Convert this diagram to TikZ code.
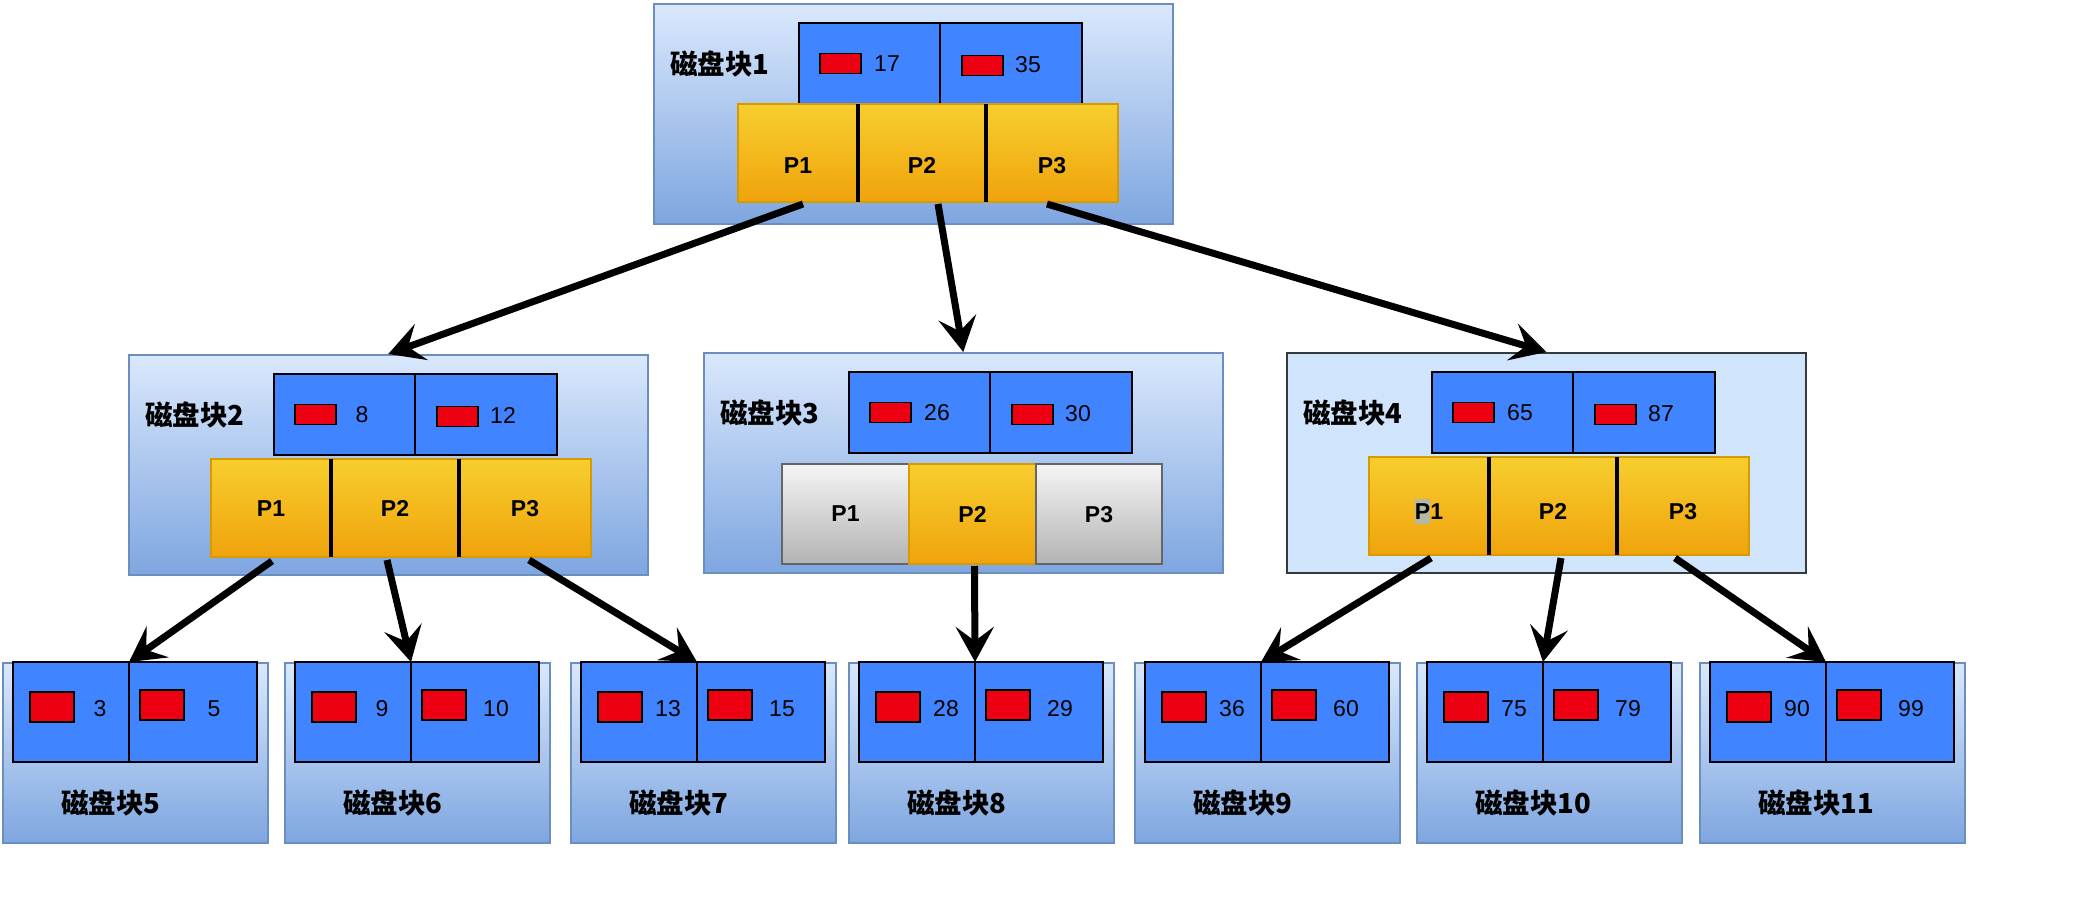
\documentclass[tikz,border=0pt]{standalone}
\usepackage{fontspec}
\setmainfont{Liberation Sans}
\newfontfamily\cjk{Noto Sans CJK SC}
\usepackage{xcolor}
\usetikzlibrary{arrows.meta}

\definecolor{disktop}{RGB}{218,232,252}
\definecolor{diskbot}{RGB}{126,166,224}
\definecolor{diskline}{RGB}{108,142,191}
\definecolor{rootfill}{RGB}{208,228,252}
\definecolor{rootline}{RGB}{54,57,61}
\definecolor{keyblue}{RGB}{64,133,255}
\definecolor{keyred}{RGB}{236,0,18}
\definecolor{ptrtop}{RGB}{247,206,46}
\definecolor{ptrbot}{RGB}{240,163,12}
\definecolor{ptrline}{RGB}{215,155,0}
\definecolor{offtop}{RGB}{245,245,245}
\definecolor{offbot}{RGB}{179,179,179}
\definecolor{offline}{RGB}{102,102,102}
\definecolor{selgrey}{RGB}{182,184,166}

% grey selection mark behind the P of block 4
\newcommand\selp{\makebox[0pt][l]{\color{selgrey}\rule[-5pt]{15.3pt}{25.5pt}}P}

\begin{document}
\begin{tikzpicture}[
    x=1pt, y=-1pt,
    diskbase/.style={line width=1.5pt, minimum width=519pt, minimum height=220pt, inner sep=0pt, anchor=north west},
    disk/.style={diskbase, draw=diskline, top color=disktop, bottom color=diskbot},
    plaindisk/.style={diskbase, draw=rootline, fill=rootfill},
    leafdisk/.style={disk, minimum width=265pt, minimum height=180pt},
    keycell/.style={draw=black, line width=2.5pt, fill=keyblue, minimum width=141pt, minimum height=81pt, inner sep=0pt, outer sep=0pt, anchor=north west},
    leafkey/.style={keycell, line width=2pt, minimum height=100pt},
    redtag/.style={draw=black, line width=1.8pt, fill=keyred, minimum width=41pt, minimum height=20pt, inner sep=0pt, anchor=west},
    leaftag/.style={redtag, minimum width=44pt, minimum height=30pt},
    keynum/.style={font=\fontsize{23}{23}\selectfont, inner sep=0pt},
    ptrcell/.style={top color=ptrtop, bottom color=ptrbot, minimum height=98pt, inner sep=0pt, outer sep=0pt, anchor=north west,
        text depth=0pt, font=\fontsize{23}{23}\selectfont\bfseries},
    ptroff/.style={ptrcell, top color=offtop, bottom color=offbot, draw=offline, line width=2pt, minimum height=100pt},
    disklabel/.style={font=\fontsize{27.5}{28}\selectfont\cjk\bfseries, inner sep=0pt, anchor=west},
    ptrarrow/.style={line width=7pt, -{Stealth[length=35pt, width=38pt, inset=14pt]}},
]
    \useasboundingbox (0,0) rectangle (2088,902);

    % Root and middle disk blocks
    \node[disk] (b1) at (653,3) {};
    \node[disk] (b2) at (128,354) {};
    \node[disk] (b3) at (703,352) {};
    \node[plaindisk] (b4) at (1286,352) {};

    \foreach \n/\ka/\kb in {1/17/35, 2/8/12, 3/26/30, 4/65/87} {
        \node[disklabel] (b\n l) at ([shift={(17,61)}]b\n.north west) {磁盘块\n};
        \node[keycell] (b\n k1) at ([shift={(146,20)}]b\n.north west) {};
        \node[keycell, minimum width=142pt] (b\n k2) at (b\n k1.north east) {};
        \node[redtag] (b\n t1) at ([xshift=20pt]b\n k1.west) {};
        \node[redtag] (b\n t2) at ([shift={(21,2)}]b\n k2.west) {};
        \node[keynum] (b\n n1) at ([xshift=88pt]b\n k1.west) {\ka};
        \node[keynum] (b\n n2) at ([shift={(88,1)}]b\n k2.west) {\kb};
    }

    % Pointer rows
    \foreach \n/\dx/\dy/\th/\pa in {1/85/101/40.5/P1, 2/83/105/16.5/P1, 4/83/105/26.5/\selp1} {
        \begin{scope}[every node/.append style={text height=\th pt}]
        \node[ptrcell, minimum width=120pt] (b\n p1) at ([shift={(\dx,\dy)}]b\n.north west) {\pa};
        \node[ptrcell, minimum width=128pt] (b\n p2) at (b\n p1.north east) {P2};
        \node[ptrcell, minimum width=132pt] (b\n p3) at (b\n p2.north east) {P3};
        \end{scope}
        \draw[ptrline, line width=2pt] (b\n p1.north west) rectangle (b\n p3.south east);
        \draw[line width=3.5pt] (b\n p1.north east) -- (b\n p1.south east)
                                (b\n p2.north east) -- (b\n p2.south east);
    }
    \node[ptroff, minimum width=127pt] (b3p1) at ([shift={(79,112)}]b3.north west) {P1};
    \node[ptrcell, draw=ptrline, line width=2pt, minimum height=100pt, minimum width=127pt] (b3p2) at (b3p1.north east) {P2};
    \node[ptroff, minimum width=126pt] (b3p3) at (b3p2.north east) {P3};

    % Leaf disk blocks
    \foreach \n/\x/\ka/\kb in {5/2/3/5, 6/284/9/10, 7/570/13/15, 8/848/28/29,
                               9/1134/36/60, 10/1416/75/79, 11/1699/90/99} {
        \node[leafdisk] (b\n) at (\x,662) {};
        \node[leafkey, minimum width=116pt] (b\n k1) at ([xshift=11pt]b\n.north west) {};
        \node[leafkey, minimum width=128pt] (b\n k2) at (b\n k1.north east) {};
        \node[leaftag] (b\n t1) at ([shift={(16,-5)}]b\n k1.west) {};
        \node[leaftag] (b\n t2) at ([shift={(10,-7)}]b\n k2.west) {};
        \node[keynum] (b\n n1) at ([shift={(87,-3)}]b\n k1.west) {\ka};
        \node[keynum] (b\n n2) at ([shift={(85,-3)}]b\n k2.west) {\kb};
        \node[disklabel] (b\n l) at ([shift={(59,141)}]b\n.north west) {磁盘块\n};
    }

    % Pointers between blocks
    \draw[ptrarrow] ([shift={(5,2)}]b1p1.south) -- (b2.north);
    \draw[ptrarrow] ([shift={(16,2)}]b1p2.south) -- (b3.north);
    \draw[ptrarrow] ([shift={(-5,2)}]b1p3.south) -- (b4.north);
    \draw[ptrarrow] ([shift={(1,4)}]b2p1.south) -- (b5k1.north east);
    \draw[ptrarrow] ([shift={(-8,3)}]b2p2.south) -- (b6k1.north east);
    \draw[ptrarrow] ([shift={(4,3)}]b2p3.south) -- (b7k1.north east);
    \draw[ptrarrow] ([shift={(2,2)}]b3p2.south) -- (b8k1.north east);
    \draw[ptrarrow] ([shift={(2,3)}]b4p1.south) -- (b9k1.north east);
    \draw[ptrarrow] ([shift={(8,3)}]b4p2.south) -- (b10k1.north east);
    \draw[ptrarrow] ([shift={(-8,3)}]b4p3.south) -- (b11k1.north east);

\end{tikzpicture}
\end{document}
